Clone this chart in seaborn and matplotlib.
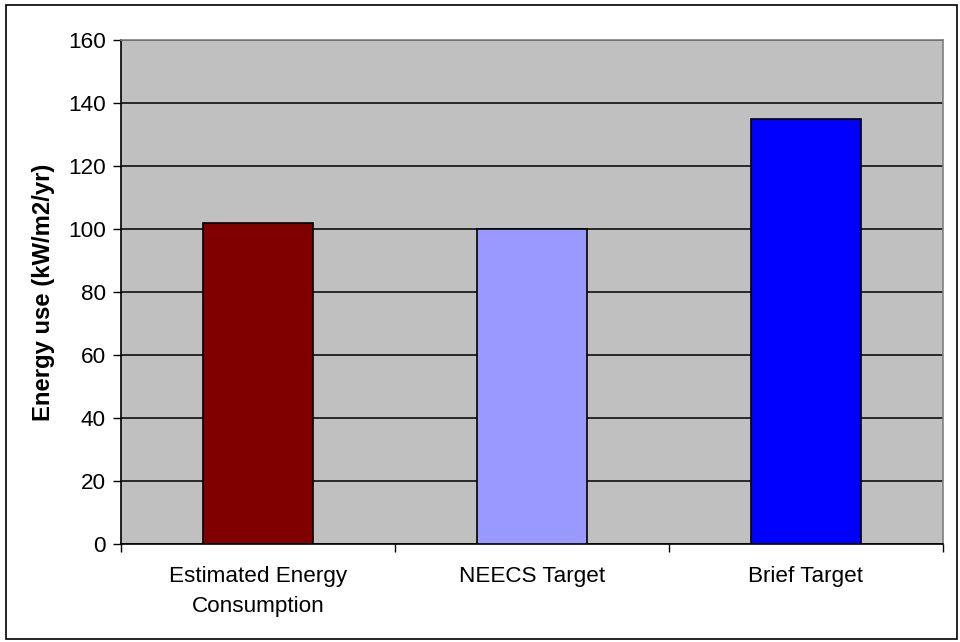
import matplotlib
matplotlib.use("Agg")
import matplotlib.pyplot as plt
import matplotlib.patches as mpatches
import seaborn as sns
import pandas as pd

categories = ["Estimated Energy\nConsumption", "NEECS Target", "Brief Target"]
energy_use = [102, 100, 135]
bar_colors = ["#800000", "#9999FF", "#0000FF"]
y_ticks = [0, 20, 40, 60, 80, 100, 120, 140, 160]

sns.set_theme(style="white")
plt.rcParams["font.family"] = ["Liberation Sans", "DejaVu Sans"]
plt.rcParams["text.color"] = "black"
plt.rcParams["xtick.color"] = "black"
plt.rcParams["ytick.color"] = "black"
plt.rcParams["axes.labelcolor"] = "black"

df = pd.DataFrame({"category": categories, "energy": energy_use})

fig = plt.figure(figsize=(9.6, 6.42), dpi=100)
ax = fig.add_axes([121 / 960, 1 - 544 / 642, (943 - 121) / 960, (544 - 40) / 642])
ax.set_facecolor("#C0C0C0")

sns.barplot(data=df, x="category", y="energy", hue="category",
            palette=bar_colors, saturation=1, width=0.4, edgecolor="black",
            linewidth=1.2, legend=False, ax=ax, zorder=3)

ax.set_ylim(0, 160)
ax.set_xlim(-0.5, 2.5)
ax.set_yticks(y_ticks)
ax.yaxis.grid(True, color="black", linewidth=1.1, zorder=1)
ax.set_axisbelow(True)

ax.set_xticks([0, 1, 2])
ax.set_xticklabels(categories, fontsize=16.2, linespacing=1.55)
ax.set_xticks([-0.5, 0.5, 1.5, 2.5], minor=True)
ax.tick_params(axis="x", which="major", length=0, pad=16)
ax.tick_params(axis="x", which="minor", length=6, width=1, color="black",
               direction="out", bottom=True)
ax.tick_params(axis="y", length=6, width=1, color="black", direction="out",
               left=True, labelsize=16.2, pad=5)

ax.set_xlabel("")
ax.set_ylabel("Energy use (kW/m2/yr)", fontsize=17.2, fontweight="bold", labelpad=9)

for side in ["left", "bottom"]:
    ax.spines[side].set_color("black")
    ax.spines[side].set_linewidth(1.2)
for side in ["top", "right"]:
    ax.spines[side].set_color("#808080")
    ax.spines[side].set_linewidth(1.2)

fig.patches.append(mpatches.Rectangle((6 / 960, 1 - 639 / 642), (957 - 6) / 960, (639 - 5) / 642,
                                      transform=fig.transFigure, fill=False,
                                      edgecolor="black", linewidth=1.2))

fig.savefig("out.png", dpi=100)
